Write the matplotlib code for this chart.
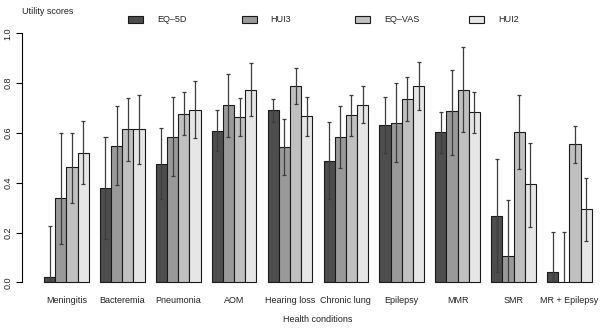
import matplotlib
matplotlib.use("Agg")
import matplotlib.pyplot as plt
from matplotlib.patches import Rectangle
import numpy as np

plt.rcParams['font.family'] = ['Liberation Sans', 'DejaVu Sans']

conditions = ["Meningitis", "Bacteremia", "Pneumonia", "AOM", "Hearing loss",
              "Chronic lung", "Epilepsy", "MMR", "SMR", "MR + Epilepsy"]
series = ["EQ\u20135D", "HUI3", "EQ\u2013VAS", "HUI2"]
colors = ["#4d4d4d", "#999999", "#c0c0c0", "#e6e6e6"]

eq5d   = [0.020, 0.377, 0.477, 0.609, 0.691, 0.489, 0.633, 0.603, 0.268, 0.043]
hui3   = [0.337, 0.549, 0.585, 0.711, 0.544, 0.585, 0.640, 0.687, 0.105, 0.003]
eqvas  = [0.462, 0.615, 0.676, 0.665, 0.788, 0.672, 0.736, 0.773, 0.604, 0.556]
hui2   = [0.520, 0.616, 0.693, 0.773, 0.667, 0.713, 0.788, 0.683, 0.393, 0.293]

eq5d_lo  = [0.000, 0.173, 0.333, 0.528, 0.644, 0.333, 0.521, 0.521, 0.041, 0.000]
eq5d_hi  = [0.225, 0.584, 0.620, 0.691, 0.736, 0.645, 0.744, 0.685, 0.497, 0.201]
hui3_lo  = [0.153, 0.389, 0.428, 0.584, 0.429, 0.460, 0.485, 0.512, 0.000, 0.000]
hui3_hi  = [0.600, 0.708, 0.743, 0.837, 0.657, 0.708, 0.801, 0.853, 0.332, 0.203]
eqvas_lo = [0.318, 0.489, 0.593, 0.589, 0.716, 0.589, 0.648, 0.605, 0.456, 0.481]
eqvas_hi = [0.600, 0.740, 0.763, 0.740, 0.860, 0.752, 0.824, 0.944, 0.752, 0.629]
hui2_lo  = [0.393, 0.477, 0.579, 0.667, 0.589, 0.640, 0.693, 0.600, 0.224, 0.167]
hui2_hi  = [0.647, 0.752, 0.808, 0.880, 0.744, 0.788, 0.884, 0.765, 0.560, 0.420]

values = [eq5d, hui3, eqvas, hui2]
lows = [eq5d_lo, hui3_lo, eqvas_lo, hui2_lo]
highs = [eq5d_hi, hui3_hi, eqvas_hi, hui2_hi]
yticks = [0.0, 0.2, 0.4, 0.6, 0.8, 1.0]

W, H = 600, 328
fig = plt.figure(figsize=(W / 100, H / 100), dpi=100)
ax = fig.add_axes([22 / W, (H - 292.26) / H, (W - 22) / W, (292.26 - 23.34) / H])

fs = 6.5
ecol = '#3c3c3c'
capw = 0.18
ng = len(conditions)
for i, (vals, lo, hi, col) in enumerate(zip(values, lows, highs, colors)):
    x = np.arange(ng) * 5 + 1 + i
    ax.bar(x, vals, width=1, align='edge', color=col, edgecolor='#1a1a1a', linewidth=0.8, zorder=2)
    xc = x + 0.5
    lo = np.array(lo)
    hi = np.array(hi)
    ax.vlines(xc, lo, hi, colors=ecol, linewidth=0.9, zorder=3)
    ax.hlines(hi, xc - capw, xc + capw, colors=ecol, linewidth=0.9, zorder=3)
    m = lo > 0.005
    ax.hlines(lo[m], xc[m] - capw, xc[m] + capw, colors=ecol, linewidth=0.9, zorder=3)

ax.set_xlim(-0.968, 50.73)
ax.set_ylim(-0.04, 1.04)
for s in ['top', 'right', 'bottom']:
    ax.spines[s].set_visible(False)
ax.spines['left'].set_bounds(0, 1)
ax.spines['left'].set_linewidth(0.8)
ax.set_yticks(yticks)
ax.set_yticklabels([f"{t:.1f}" for t in yticks], rotation=90, va='center', fontsize=fs, color='#222222')
ax.tick_params(axis='y', length=4, width=0.8, pad=3)
ax.set_xticks(np.arange(ng) * 5 + 3)
ax.set_xticklabels(conditions, fontsize=fs, color='#222222')
ax.tick_params(axis='x', length=0, pad=3)

fig.text(318 / W, 1 - 319 / H, "Health conditions", fontsize=fs, va='center', ha='center', color='#222222')
fig.text(22 / W, 1 - 12 / H, "Utility scores", fontsize=fs, va='center', ha='left', color='#222222')

for i, (name, col) in enumerate(zip(series, colors)):
    bx = 128 + i * 113.7
    fig.patches.append(Rectangle((bx / W, 1 - 22.5 / H), 15 / W, 6 / H, transform=fig.transFigure,
                                 facecolor=col, edgecolor='#1a1a1a', linewidth=0.8))
    fig.text((bx + 29) / W, 1 - 19.5 / H, name, fontsize=fs, va='center', ha='left', color='#222222')

fig.savefig("out.png", dpi=100)
